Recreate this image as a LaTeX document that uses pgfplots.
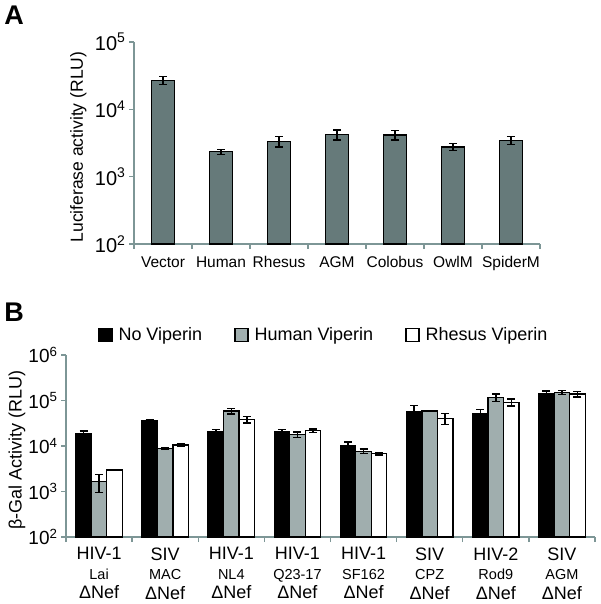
\documentclass[border=0pt]{standalone}
\usepackage{fontspec}
\setmainfont{Liberation Sans}
\usepackage{pgfplots}
\usepackage{pgfplotstable}
\pgfplotsset{compat=1.18}
\definecolor{axisc}{RGB}{125,150,150}
\definecolor{barA}{RGB}{102,122,122}
\definecolor{barG}{RGB}{160,174,174}

\pgfplotstableread{
x y e
0 26900 3700
1 2350 200
2 3360 600
3 4210 700
4 4170 650
5 2760 330
6 3475 450
}\dataA

\pgfplotstableread{
x k ke g ge w we
0 18300 3000 1650 700 2980 100
1 36600 1500 8900 300 10500 600
2 20600 2500 58500 8000 38500 6500
3 20300 3000 18000 2500 21600 2000
4 10350 1800 7650 900 6800 500
5 57500 20000 58500 800 40500 11000
6 50200 13000 116700 23000 92000 17000
7 145000 18000 150000 15000 138000 18000
}\dataB

\begin{document}
\begin{tikzpicture}
\useasboundingbox (0pt,0pt) rectangle (600pt,-604pt);
\node[font=\fontsize{27}{28}\selectfont\bfseries, anchor=center] at (14pt,-15pt) {A};
\node[font=\fontsize{27}{28}\selectfont\bfseries, anchor=center] at (14pt,-312pt) {B};

\begin{axis}[
  scale only axis,
  ymode=log, log origin=infty,
  axis x line*=bottom, axis y line*=left,
  axis line style={axisc, line width=1.3pt, -},
  major tick style={axisc, line width=1.3pt},
  tick align=outside, major tick length=5pt,
  x tick label as interval,
  yminorticks=false,
  clip=false,
  at={(134pt,-244pt)}, anchor=south west,
  width=406pt, height=202pt,
  ymin=100, ymax=100000,
  xmin=-0.5, xmax=6.5,
  xtick={-0.5,0.5,...,6.5},
  xticklabels={Vector,Human,Rhesus,AGM,Colobus,OwlM,SpiderM},
  xticklabel style={font=\fontsize{15.5}{17}\selectfont, yshift=-4pt},
  ytick={100,1000,10000,100000},
  yticklabels={10\textsuperscript{2},10\textsuperscript{3},10\textsuperscript{4},10\textsuperscript{5}},
  yticklabel style={font=\fontsize{20}{22}\selectfont},
  every axis y label/.style={at={(axis description cs:-0.137,0.48)}, rotate=90, anchor=center},
  ylabel={Luciferase activity (RLU)},
  label style={font=\fontsize{17.5}{19}\selectfont},
]
\addplot[ybar, bar width=23pt, fill=barA, draw=black, line width=1.3pt,
  error bars/y dir=both, error bars/y explicit,
  error bars/error bar style={black, line width=1.4pt},
  error bars/error mark options={rotate=90, mark size=4pt, black, line width=1.4pt}]
  table[x=x, y=y, y error=e] {\dataA};
\end{axis}

\begin{axis}[
  scale only axis,
  ymode=log, log origin=infty,
  axis x line*=bottom, axis y line*=left,
  axis line style={axisc, line width=1.3pt, -},
  major tick style={axisc, line width=1.3pt},
  tick align=outside, major tick length=5pt,
  x tick label as interval,
  yminorticks=false,
  clip=false,
  at={(66pt,-537pt)}, anchor=south west,
  width=529pt, height=182pt,
  ymin=100, ymax=1000000,
  xmin=-0.5, xmax=7.5,
  ybar=0pt, bar width=15.5pt,
  xtick={-0.5,0.5,...,7.5},
  xticklabels={
    {HIV-1\\{\fontsize{14.5}{19.5}\selectfont Lai}\\ΔNef},
    {SIV\\{\fontsize{14.5}{19.5}\selectfont MAC}\\ΔNef},
    {HIV-1\\{\fontsize{14.5}{19.5}\selectfont NL4}\\ΔNef},
    {HIV-1\\{\fontsize{14.5}{19.5}\selectfont Q23-17}\\ΔNef},
    {HIV-1\\{\fontsize{14.5}{19.5}\selectfont SF162}\\ΔNef},
    {SIV\\{\fontsize{14.5}{19.5}\selectfont CPZ}\\ΔNef},
    {HIV-2\\{\fontsize{14.5}{19.5}\selectfont Rod9}\\ΔNef},
    {SIV\\{\fontsize{14.5}{19.5}\selectfont AGM}\\ΔNef}},
  xticklabel style={font=\fontsize{18}{19.5}\selectfont, align=center, yshift=-2pt},
  ytick={100,1000,10000,100000,1000000},
  yticklabels={10\textsuperscript{2},10\textsuperscript{3},10\textsuperscript{4},10\textsuperscript{5},10\textsuperscript{6}},
  yticklabel style={font=\fontsize{19}{21}\selectfont},
  every axis y label/.style={at={(axis description cs:-0.0926,0.478)}, rotate=90, anchor=center},
  ylabel={β-Gal Activity (RLU)},
  label style={font=\fontsize{18}{20}\selectfont},
  legend style={at={(axis description cs:0.0605,1.11)}, anchor=west, draw=none, fill=none,
    legend columns=3, font=\fontsize{18}{20}\selectfont, inner sep=0pt,
    /tikz/every even column/.append style={column sep=30pt}},
  legend image code/.code={\draw[#1, draw=black, line width=1.3pt] (0pt,-6.5pt) rectangle (13pt,6.5pt); \path (17pt,0pt);},
]
\addplot[fill=black, draw=black, line width=1.3pt,
  error bars/y dir=both, error bars/y explicit,
  error bars/error bar style={black, line width=1.4pt},
  error bars/error mark options={rotate=90, mark size=4pt, black, line width=1.4pt}]
  table[x=x, y=k, y error=ke] {\dataB};
\addplot[fill=barG, draw=black, line width=1.3pt,
  error bars/y dir=both, error bars/y explicit,
  error bars/error bar style={black, line width=1.4pt},
  error bars/error mark options={rotate=90, mark size=4pt, black, line width=1.4pt}]
  table[x=x, y=g, y error=ge] {\dataB};
\addplot[fill=white, draw=black, line width=1.3pt,
  error bars/y dir=both, error bars/y explicit,
  error bars/error bar style={black, line width=1.4pt},
  error bars/error mark options={rotate=90, mark size=4pt, black, line width=1.4pt}]
  table[x=x, y=w, y error=we] {\dataB};
\legend{No Viperin, Human Viperin, Rhesus Viperin}
\end{axis}
\end{tikzpicture}
\end{document}
